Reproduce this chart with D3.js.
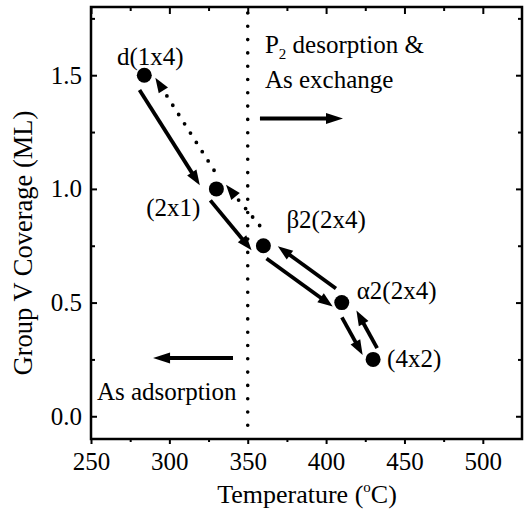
<!DOCTYPE html>
<html><head><meta charset="utf-8">
<script src="https://cdn.jsdelivr.net/npm/d3@7"></script>
<style>html,body{margin:0;padding:0;background:#fff;}svg{display:block;}
svg text{font-family:"Liberation Serif","Times New Roman",Times,serif;}</style>
</head><body>
<script>
// ---- data ----
const temps = [284, 330, 360, 410, 430];
const coverage = [1.5, 1.0, 0.75, 0.5, 0.25];
const stateLabels = ["d(1x4)", "(2x1)", "β2(2x4)", "α2(2x4)", "(4x2)"];
const xTicks = [250, 300, 350, 400, 450, 500];
const xMinorTicks = [275, 325, 375, 425, 475];
const yTicks = [0.0, 0.5, 1.0, 1.5];
const yMinorTicks = [0.25, 0.75, 1.25, 1.75];
const boundaryTemp = 350;
// transitions between states
const arrowFrom   = [0, 1, 1, 2, 2, 3, 3, 4];
const arrowTo     = [1, 0, 2, 1, 3, 2, 4, 3];
const arrowDotted = [false, true, false, true, false, false, false, false];
// region annotations
const regionTextLines = ["desorption &", "As exchange", "As adsorption"];
const regionTextX = [361, 361, 253.8];
const regionTextY = [1.598, 1.444, 0.072];
const regionArrowX0 = [357.8, 340.6];
const regionArrowX1 = [410.8, 289.6];
const regionArrowY = [1.31, 0.256];

// ---- layout / style ----
const W = 524, H = 514;
const x = d3.scaleLinear().domain([250, 525]).range([91, 522]);
const y = d3.scaleLinear().domain([-0.1, 1.8]).range([439, 7]);
const FS = 25;
// per-arrow geometry: perpendicular offset (px), gap at tail, gap at tip
const arrowOffset = [12, -8, 12, -10, 8.5, -8, 7, -9];
const arrowTailGap = [10, 17, 5, 18, 10, 13, 13, 8];
const arrowTipGap = [12, 8, 4, 3, 5, 12, 9, 14];
const labelDx = [6, -16, 23, 15, 14];
const labelDy = [-10.5, 27.5, -17.5, -4, 8];
const labelAnchor = ["middle", "end", "start", "start", "start"];

const svg = d3.select("body").append("svg")
  .attr("width", W).attr("height", H);

const x0 = x.range()[0], x1 = x.range()[1], y0 = y.range()[1], y1 = y.range()[0];

function styleAxis(g) {
  g.attr("font-family", null);
  g.select(".domain").remove();
  g.selectAll(".tick line").attr("stroke", "#000").attr("stroke-width", 2);
  g.selectAll(".tick text").attr("fill", "#000").attr("font-size", FS);
}

// bottom axis (outward ticks)
svg.append("g").attr("transform", `translate(0,${y1})`)
  .call(d3.axisBottom(x).tickValues(xTicks).tickSize(5).tickPadding(8).tickFormat(d3.format("d")))
  .call(styleAxis);
svg.append("g").attr("transform", `translate(0,${y1})`)
  .call(d3.axisBottom(x).tickValues(xMinorTicks).tickSize(3).tickFormat(""))
  .call(styleAxis);
// top axis (inward)
svg.append("g").attr("transform", `translate(0,${y0})`)
  .call(d3.axisTop(x).tickValues(xTicks).tickSize(-7).tickFormat(""))
  .call(styleAxis);
svg.append("g").attr("transform", `translate(0,${y0})`)
  .call(d3.axisTop(x).tickValues(xMinorTicks).tickSize(-4).tickFormat(""))
  .call(styleAxis);
// left axis (inward)
svg.append("g").attr("transform", `translate(${x0},0)`)
  .call(d3.axisLeft(y).tickValues(yTicks).tickSize(-6).tickPadding(9).tickFormat(d3.format(".1f")))
  .call(styleAxis);
svg.append("g").attr("transform", `translate(${x0},0)`)
  .call(d3.axisLeft(y).tickValues(yMinorTicks).tickSize(-4).tickFormat(""))
  .call(styleAxis);
// right axis (inward)
svg.append("g").attr("transform", `translate(${x1},0)`)
  .call(d3.axisRight(y).tickValues(yTicks).tickSize(-6).tickFormat(""))
  .call(styleAxis);
svg.append("g").attr("transform", `translate(${x1},0)`)
  .call(d3.axisRight(y).tickValues(yMinorTicks).tickSize(-4).tickFormat(""))
  .call(styleAxis);

// frame
svg.append("rect").attr("x", x0).attr("y", y0).attr("width", x1 - x0).attr("height", y1 - y0)
  .attr("fill", "none").attr("stroke", "#000").attr("stroke-width", 2.5);

// axis titles
const xt = svg.append("text").attr("x", 307).attr("y", 503).attr("text-anchor", "middle")
  .attr("font-size", 26).attr("fill", "#000");
xt.append("tspan").text("Temperature (");
xt.append("tspan").text("o").attr("font-size", 15).attr("dy", -11);
xt.append("tspan").text("C)").attr("dy", 11);

svg.append("text").attr("transform", `translate(32,${(y0 + y1) / 2 + 20}) rotate(-90)`)
  .attr("text-anchor", "middle").attr("font-size", 26.5).attr("fill", "#000")
  .text("Group V Coverage (ML)");

// boundary dotted line
svg.append("line").attr("x1", x(boundaryTemp)).attr("x2", x(boundaryTemp))
  .attr("y1", y0 + 6).attr("y2", y1 - 10)
  .attr("stroke", "#000").attr("stroke-width", 3.6).attr("stroke-linecap", "round")
  .attr("stroke-dasharray", "0 13.3");

// arrow helper
function arrow(ax, ay, bx, by, dotted, headLen, headHalf, sw) {
  const dx = bx - ax, dy = by - ay, L = Math.hypot(dx, dy);
  const ux = dx / L, uy = dy / L;
  const baseX = bx - ux * headLen, baseY = by - uy * headLen;
  svg.append("line").attr("x1", ax).attr("y1", ay).attr("x2", baseX + ux * (dotted ? 0 : 1)).attr("y2", baseY + uy * (dotted ? 0 : 1))
    .attr("stroke", "#000").attr("stroke-width", dotted ? 3.8 : sw)
    .attr("stroke-linecap", dotted ? "round" : "butt")
    .attr("stroke-dasharray", dotted ? "0 11" : null);
  const nx = -uy, ny = ux;
  svg.append("polygon")
    .attr("points", [[bx, by], [baseX + nx * headHalf, baseY + ny * headHalf], [baseX - nx * headHalf, baseY - ny * headHalf]].map(p => p.join(",")).join(" "))
    .attr("fill", "#000");
}

// transition arrows
arrowFrom.forEach((f, i) => {
  const t = arrowTo[i];
  const lo = Math.min(f, t), hi = Math.max(f, t);
  const lx = x(temps[lo]), ly = y(coverage[lo]), hx = x(temps[hi]), hy = y(coverage[hi]);
  const L = Math.hypot(hx - lx, hy - ly);
  const ux = (hx - lx) / L, uy = (hy - ly) / L;
  const nx = -uy, ny = ux;
  const off = arrowOffset[i];
  const fx = x(temps[f]), fy = y(coverage[f]), tx = x(temps[t]), ty = y(coverage[t]);
  const sx = (tx - fx) / L, sy = (ty - fy) / L;
  const ax = fx + sx * arrowTailGap[i] + nx * off, ay = fy + sy * arrowTailGap[i] + ny * off;
  const bx = tx - sx * arrowTipGap[i] + nx * off, by = ty - sy * arrowTipGap[i] + ny * off;
  arrow(ax, ay, bx, by, arrowDotted[i], 15, 5.5, 3.8);
});

// state points
svg.selectAll("circle.state").data(temps).enter().append("circle")
  .attr("class", "state")
  .attr("cx", d => x(d)).attr("cy", (d, i) => y(coverage[i])).attr("r", 7.5).attr("fill", "#000");

// state labels
svg.selectAll("text.state").data(stateLabels).enter().append("text")
  .attr("class", "state")
  .attr("x", (d, i) => x(temps[i]) + labelDx[i])
  .attr("y", (d, i) => y(coverage[i]) + labelDy[i])
  .attr("text-anchor", (d, i) => labelAnchor[i])
  .attr("font-size", FS).attr("fill", "#000")
  .text(d => d);

// region annotations
const p2 = svg.append("text").attr("x", x(regionTextX[0])).attr("y", y(regionTextY[0]))
  .attr("font-size", FS).attr("fill", "#000");
p2.append("tspan").text("P");
p2.append("tspan").text("2").attr("font-size", 15).attr("dy", 6);
p2.append("tspan").text(" " + regionTextLines[0]).attr("dy", -6);
svg.append("text").attr("x", x(regionTextX[1])).attr("y", y(regionTextY[1]))
  .attr("font-size", FS).attr("fill", "#000").text(regionTextLines[1]);
svg.append("text").attr("x", x(regionTextX[2])).attr("y", y(regionTextY[2]))
  .attr("font-size", FS).attr("fill", "#000").text(regionTextLines[2]);

regionArrowX0.forEach((v, i) => {
  arrow(x(v), y(regionArrowY[i]), x(regionArrowX1[i]), y(regionArrowY[i]), false, 17, 5.5, 4);
});
</script>
</body></html>
